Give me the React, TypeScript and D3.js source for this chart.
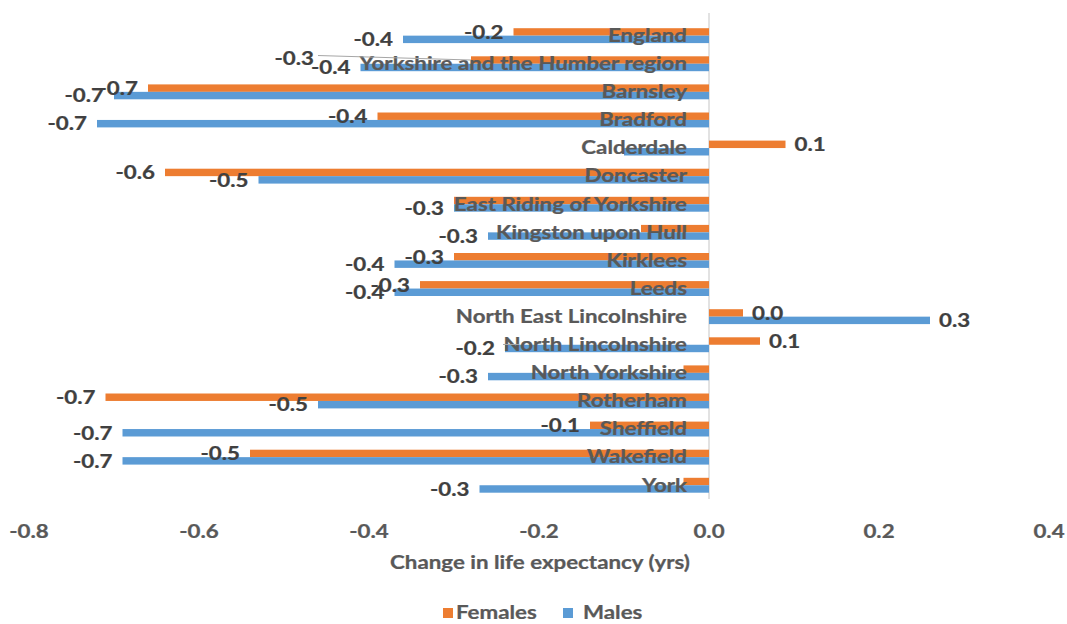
import React from "react";
import * as d3 from "d3";

// Change in life expectancy by area, females vs males
const categories = [
  "England",
  "Yorkshire and the Humber region",
  "Barnsley",
  "Bradford",
  "Calderdale",
  "Doncaster",
  "East Riding of Yorkshire",
  "Kingston upon Hull",
  "Kirklees",
  "Leeds",
  "North East Lincolnshire",
  "North Lincolnshire",
  "North Yorkshire",
  "Rotherham",
  "Sheffield",
  "Wakefield",
  "York",
];

const females = [-0.23, -0.28, -0.66, -0.39, 0.09, -0.64, -0.3, -0.08, -0.3, -0.34, 0.04, 0.06, -0.03, -0.71, -0.14, -0.54, -0.03];
const males = [-0.36, -0.41, -0.7, -0.72, -0.1, -0.53, -0.3, -0.26, -0.37, -0.37, 0.26, -0.24, -0.26, -0.46, -0.69, -0.69, -0.27];

const seriesNames = ["Females", "Males"];
const tickValues = [-0.8, -0.6, -0.4, -0.2, 0, 0.2, 0.4];
const axisTitle = "Change in life expectancy (yrs)";

// data labels that are not shown
const hiddenLabels = new Set([
  "Calderdale|Males",
  "East Riding of Yorkshire|Females",
  "Kingston upon Hull|Females",
  "North Yorkshire|Females",
  "York|Females",
]);

const W = 1067;
const H = 624;
const COLORS: Record<string, string> = { Females: "#ED7D31", Males: "#5B9BD5" };
const FONT = "Lato, 'Open Sans', sans-serif";
const FS = 18;
const SX = 1.24; // horizontal stretch for text
const TEXT = "#595959";
const LABEL = "#404040";

const fmt = d3
  .formatLocale({ decimal: ".", thousands: ",", grouping: [3], currency: ["", ""], minus: "-" })
  .format(".1f");

const x = d3.scaleLinear().domain([-0.8, 0.4]).range([29, 1049]);
const y = d3.scaleBand<string>().domain(categories).range([21.6, 499.3]).padding(0);
const groupH = y.step() * 0.53;
const sub = d3.scaleBand<string>().domain(seriesNames).range([0, groupH]);

function T(props: {
  x: number;
  y: number;
  anchor?: "start" | "middle" | "end";
  fill?: string;
  size?: number;
  children: React.ReactNode;
}) {
  const fill = props.fill || TEXT;
  return (
    <text
      transform={`translate(${props.x},${props.y}) scale(${SX},1)`}
      textAnchor={props.anchor || "start"}
      fill={fill}
      stroke={fill}
      strokeWidth={0.25}
      fontFamily={FONT}
      fontWeight={700}
      fontSize={props.size || FS}
    >
      {props.children}
    </text>
  );
}

export default function App() {
  const rows = categories.map((c, i) => ({ c, Females: females[i], Males: males[i] }));
  const zero = x(0);

  return (
    <div style={{ position: "absolute", left: 0, top: 0 }}>
      <svg width={W} height={H} style={{ display: "block", background: "#fff" }}>
        {/* vertical category axis line at zero */}
        <line x1={zero} x2={zero} y1={13} y2={499} stroke="#d9d9d9" strokeWidth={1.5} />

        {/* bars */}
        {rows.map((r) => {
          const c0 = (y(r.c) as number) + y.step() / 2 - groupH / 2;
          return seriesNames.map((s) => {
            const v = (r as any)[s] as number;
            return (
              <rect
                key={r.c + s}
                x={Math.min(x(v), zero)}
                width={Math.abs(x(v) - zero)}
                y={c0 + (sub(s) as number)}
                height={sub.bandwidth()}
                fill={COLORS[s]}
              />
            );
          });
        })}

        {/* category labels */}
        {rows.map((r) => (
          <T key={"cat" + r.c} x={zero - 22} y={(y(r.c) as number) + y.step() / 2 + 6.3} anchor="end">
            {r.c}
          </T>
        ))}

        {/* data labels */}
        {rows.map((r) => {
          const c0 = (y(r.c) as number) + y.step() / 2 - groupH / 2;
          return seriesNames.map((s) => {
            if (hiddenLabels.has(r.c + "|" + s)) return null;
            const v = (r as any)[s] as number;
            const cy = c0 + (sub(s) as number) + sub.bandwidth() / 2;
            const neg = v < 0;
            let lx = neg ? x(v) - 10 : x(v) + 9;
            let ly = cy + 6.8;
            let leader: React.ReactNode = null;
            if (r.c === "Yorkshire and the Humber region" && s === "Females") {
              lx = x(v) - 157;
              ly = cy + 4.5;
              leader = (
                <line x1={lx + 4} y1={ly - 9} x2={x(v)} y2={cy} stroke="#a6a6a6" strokeWidth={1} />
              );
            }
            if (r.c === "North Lincolnshire" && s === "Males") {
              leader = (
                <line x1={lx + 8} y1={cy - 4} x2={lx + 24} y2={cy - 4} stroke="#a6a6a6" strokeWidth={1} />
              );
            }
            return (
              <g key={"lab" + r.c + s}>
                {leader}
                <T x={lx} y={ly} anchor={neg ? "end" : "start"} fill={LABEL}>
                  {fmt(v)}
                </T>
              </g>
            );
          });
        })}

        {/* value axis tick labels */}
        {tickValues.map((t) => (
          <T key={"t" + t} x={x(t)} y={538} anchor="middle">
            {fmt(t)}
          </T>
        ))}

        {/* axis title */}
        <T x={540} y={569} anchor="middle">
          {axisTitle}
        </T>

        {/* legend */}
        <rect x={443} y={608} width={10} height={10} fill={COLORS.Females} />
        <T x={456} y={619}>Females</T>
        <rect x={563} y={608} width={10} height={10} fill={COLORS.Males} />
        <T x={583} y={619}>Males</T>
      </svg>
    </div>
  );
}
